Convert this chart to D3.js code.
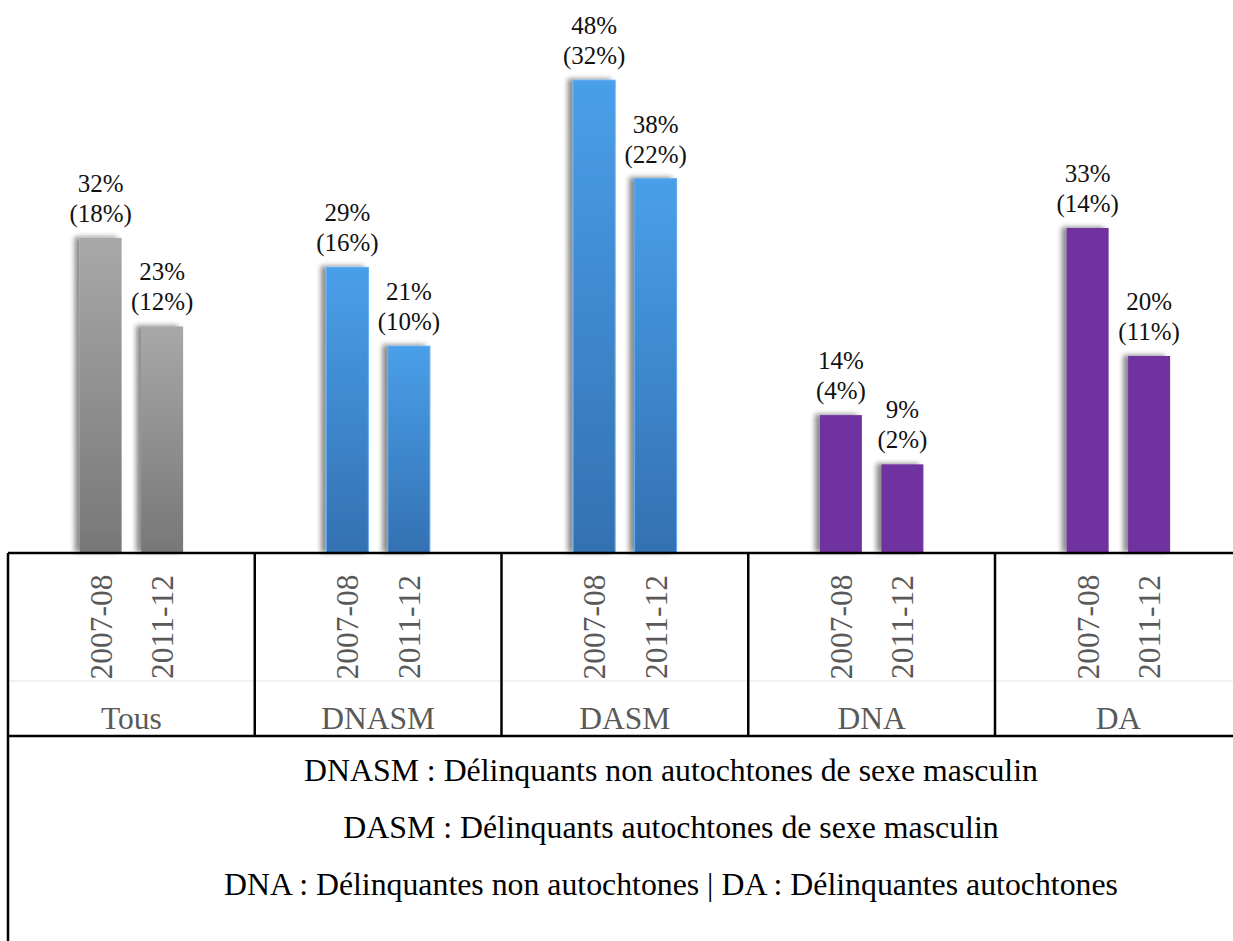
<!DOCTYPE html>
<html>
<head>
<meta charset="utf-8">
<script src="https://cdn.jsdelivr.net/npm/d3@7"></script>
<style>
  html, body { margin: 0; padding: 0; background: #fff; }
  svg { display: block; }
</style>
</head>
<body>
<svg id="chart" width="1233" height="941"></svg>
<script>
// ---- data ----
const categories = ["Tous", "DNASM", "DASM", "DNA", "DA"];
const periods = ["2007-08", "2011-12"];
const values2007 = [32, 29, 48, 14, 33];
const values2011 = [23, 21, 38, 9, 20];
const sub2007 = ["(18%)", "(16%)", "(32%)", "(4%)", "(14%)"];
const sub2011 = ["(12%)", "(10%)", "(22%)", "(2%)", "(11%)"];
const colorKeys = ["gray", "blue", "blue", "purple", "purple"];
const legendLines = [
  "DNASM : Délinquants non autochtones de sexe masculin",
  "DASM : Délinquants autochtones de sexe masculin",
  "DNA : Délinquantes non autochtones | DA : Délinquantes autochtones"
];

const rows = [];
categories.forEach((c, i) => {
  rows.push({cat: c, period: periods[0], v: values2007[i], sub: sub2007[i], col: colorKeys[i]});
  rows.push({cat: c, period: periods[1], v: values2011[i], sub: sub2011[i], col: colorKeys[i]});
});

const FONT = '"Liberation Serif", monospace';

// ---- layout ----
const svg = d3.select("#chart");
const baseY = 553, catBottom = 736, left = 8, right = 1233;
const x0 = d3.scaleBand().domain(categories).range([left, left + 5 * 246.75]).paddingInner(0).paddingOuter(0);
const x1 = d3.scaleBand().domain(periods).range([0, x0.bandwidth()]).paddingInner(0.317).paddingOuter(1.165);
const y = d3.scaleLinear().domain([0, 50]).range([baseY, baseY - 492.5]);

const defs = svg.append("defs");
const grads = {
  gray: ["#a8a8a8", "#777777"],
  blue: ["#4a9fe9", "#3371b2"],
  purple: ["#7030a0", "#7030a0"]
};
Object.entries(grads).forEach(([k, [a, b]]) => {
  const g = defs.append("linearGradient").attr("id", "g-" + k)
    .attr("x1", 0).attr("y1", 0).attr("x2", 0).attr("y2", 1);
  g.append("stop").attr("offset", "0%").attr("stop-color", a);
  g.append("stop").attr("offset", "100%").attr("stop-color", b);
});
const strokes = {gray: "none", blue: "#5eaaf0", purple: "none"};
const f = defs.append("filter").attr("id", "shadow")
  .attr("x", "-50%").attr("y", "-10%").attr("width", "200%").attr("height", "120%");
f.append("feDropShadow").attr("dx", -5).attr("dy", -1).attr("stdDeviation", 2.5)
  .attr("flood-color", "#000").attr("flood-opacity", 0.45);

// faint inner line
svg.append("line").attr("x1", left).attr("x2", right).attr("y1", 681).attr("y2", 681)
  .attr("stroke", "#e4e4e4").attr("stroke-width", 1);

// bars
const g = svg.append("g");
g.selectAll("rect.bar").data(rows).join("rect")
  .attr("class", "bar")
  .attr("x", d => x0(d.cat) + x1(d.period))
  .attr("width", x1.bandwidth())
  .attr("y", d => y(d.v))
  .attr("height", d => baseY - y(d.v))
  .attr("fill", d => `url(#g-${d.col})`)
  .attr("stroke", d => strokes[d.col])
  .attr("stroke-width", 1)
  .attr("filter", "url(#shadow)");

// value labels
const lab = g.selectAll("text.val").data(rows).join("text")
  .attr("class", "val")
  .attr("text-anchor", "middle")
  .style("font-family", FONT)
  .style("font-size", "25px")
  .attr("fill", "#111");
lab.append("tspan")
  .attr("x", d => x0(d.cat) + x1(d.period) + x1.bandwidth() / 2)
  .attr("y", d => y(d.v) - 46)
  .text(d => d.v + "%");
lab.append("tspan")
  .attr("x", d => x0(d.cat) + x1(d.period) + x1.bandwidth() / 2)
  .attr("y", d => y(d.v) - 16)
  .text(d => d.sub);

// period labels (rotated)
g.selectAll("text.per").data(rows).join("text")
  .attr("class", "per")
  .attr("transform", d => `translate(${x0(d.cat) + x1(d.period) + x1.bandwidth() / 2 + 11},627) rotate(-90)`)
  .attr("text-anchor", "middle")
  .style("font-family", FONT)
  .style("font-size", "31.5px")
  .attr("fill", "#595959")
  .text(d => d.period);

// category labels
g.selectAll("text.cat").data(categories).join("text")
  .attr("class", "cat")
  .attr("x", d => x0(d) + x0.bandwidth() / 2)
  .attr("y", 729)
  .attr("text-anchor", "middle")
  .style("font-family", FONT)
  .style("font-size", "31.5px")
  .attr("fill", "#595959")
  .text(d => d);

// table lines
const lines = svg.append("g").attr("stroke", "#000").attr("stroke-width", 2.5);
lines.append("line").attr("x1", left).attr("x2", right).attr("y1", baseY).attr("y2", baseY);
lines.append("line").attr("x1", left).attr("x2", right).attr("y1", catBottom).attr("y2", catBottom);
categories.forEach(c => {
  lines.append("line").attr("x1", x0(c)).attr("x2", x0(c)).attr("y1", baseY).attr("y2", catBottom);
});
lines.append("line").attr("x1", left).attr("x2", left).attr("y1", catBottom).attr("y2", 941);

// legend text
svg.append("g").selectAll("text").data(legendLines).join("text")
  .attr("x", 671)
  .attr("y", (d, i) => 781 + i * 57)
  .attr("text-anchor", "middle")
  .style("font-family", FONT)
  .style("font-size", "31.8px")
  .attr("fill", "#000")
  .text(d => d);
</script>
</body>
</html>
